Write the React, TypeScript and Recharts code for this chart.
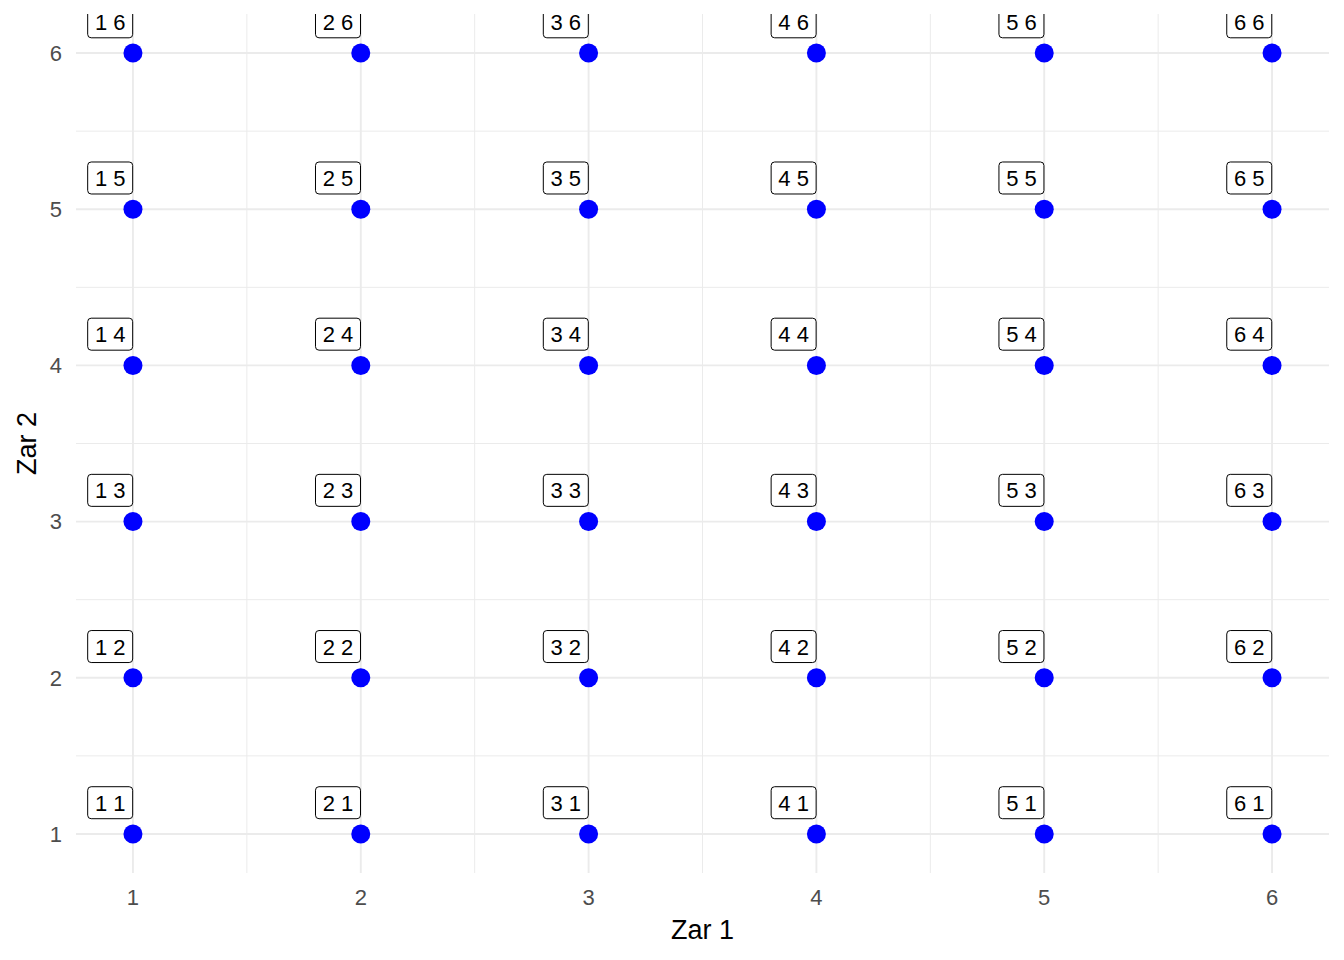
import React from 'react';
import { ScatterChart, Scatter, XAxis, YAxis, ReferenceLine } from 'recharts';

const zar1Values = [1, 2, 3, 4, 5, 6];
const zar2Values = [1, 2, 3, 4, 5, 6];
const xTicks = [1, 2, 3, 4, 5, 6];
const yTicks = [1, 2, 3, 4, 5, 6];
const minorBreaks = [1.5, 2.5, 3.5, 4.5, 5.5];
const nudgeX = -0.1;
const nudgeY = 0.2;

const points = zar1Values.flatMap((a) => zar2Values.map((b) => ({ x: a, y: b, label: `${a} ${b}` })));
const labelPoints = points.map((p) => ({ x: p.x + nudgeX, y: p.y + nudgeY, label: p.label }));

const FONT = '"Liberation Sans", Arial, sans-serif';

const Dot = (props: any) => {
  const { cx, cy } = props;
  if (cx == null || cy == null) return null;
  return <circle cx={cx} cy={cy} r={9.5} fill="#0000FF" />;
};

const LabelBox = (props: any) => {
  const { cx, cy, payload } = props;
  if (cx == null || cy == null) return null;
  return (
    <g>
      <rect x={cx - 22.5} y={cy - 16} width={45} height={32} rx={3.5} ry={3.5} fill="#FFFFFF" stroke="#000000" strokeWidth={1} />
      <text x={cx} y={cy + 8} textAnchor="middle" fontSize={22} fontFamily={FONT} fill="#000000">
        {payload.label}
      </text>
    </g>
  );
};

export default function App() {
  return (
    <div style={{ position: 'absolute', left: 0, top: 0, background: '#FFFFFF' }}>
      <ScatterChart width={1344} height={960} margin={{ top: 14, right: 15, left: 0, bottom: 0 }}>
        {minorBreaks.map((v) => (
          <ReferenceLine key={`mx${v}`} x={v} stroke="#EBEBEB" strokeWidth={1} />
        ))}
        {minorBreaks.map((v) => (
          <ReferenceLine key={`my${v}`} y={v} stroke="#EBEBEB" strokeWidth={1} />
        ))}
        {xTicks.map((v) => (
          <ReferenceLine key={`Mx${v}`} x={v} stroke="#EBEBEB" strokeWidth={1.9} />
        ))}
        {yTicks.map((v) => (
          <ReferenceLine key={`My${v}`} y={v} stroke="#EBEBEB" strokeWidth={1.9} />
        ))}
        <XAxis
          type="number"
          dataKey="x"
          domain={[0.75, 6.25]}
          ticks={xTicks}
          allowDataOverflow
          axisLine={false}
          tickLine={false}
          tickSize={0}
          tickMargin={16}
          height={87}
          tick={{ fill: '#4D4D4D', fontSize: 22, fontFamily: FONT }}
          label={{ value: 'Zar 1', position: 'insideBottom', offset: 21, fill: '#000000', fontSize: 27, fontFamily: FONT }}
        />
        <YAxis
          type="number"
          dataKey="y"
          domain={[0.75, 6.25]}
          ticks={yTicks}
          allowDataOverflow
          axisLine={false}
          tickLine={false}
          tickSize={0}
          tickMargin={14}
          width={76}
          tick={{ fill: '#4D4D4D', fontSize: 22, fontFamily: FONT }}
          label={{ value: 'Zar 2', angle: -90, position: 'insideLeft', offset: 26, fill: '#000000', fontSize: 27, fontFamily: FONT, style: { textAnchor: 'middle' } }}
        />
        <Scatter data={points} shape={Dot} isAnimationActive={false} />
        <Scatter data={labelPoints} shape={LabelBox} isAnimationActive={false} />
      </ScatterChart>
    </div>
  );
}
